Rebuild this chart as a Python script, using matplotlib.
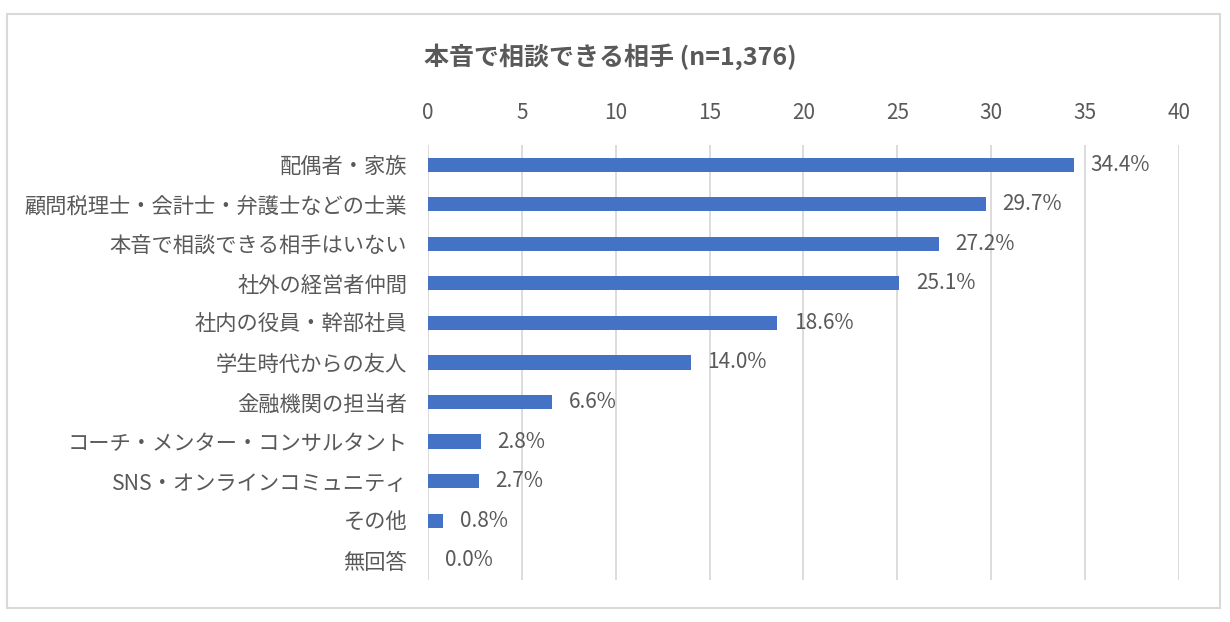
#!/usr/bin/env python3
"""
Horizontal bar chart: who company owners can talk to honestly (n=1,376).
"""
import matplotlib
matplotlib.use('Agg')
import matplotlib.pyplot as plt
from matplotlib.patches import Rectangle

TITLE = '本音で相談できる相手 (n=1,376)'
categories = [
    '配偶者・家族',
    '顧問税理士・会計士・弁護士などの士業',
    '本音で相談できる相手はいない',
    '社外の経営者仲間',
    '社内の役員・幹部社員',
    '学生時代からの友人',
    '金融機関の担当者',
    'コーチ・メンター・コンサルタント',
    'SNS・オンラインコミュニティ',
    'その他',
    '無回答',
]
values = [34.4, 29.7, 27.2, 25.1, 18.6, 14.0, 6.6, 2.8, 2.7, 0.8, 0.0]
x_ticks = [0, 5, 10, 15, 20, 25, 30, 35, 40]

BAR_COLOR = '#4472C4'
TEXT_COLOR = '#595959'
GRID_COLOR = '#D9D9D9'


def main():
    plt.rcParams['font.family'] = ['Noto Sans CJK JP', 'DejaVu Sans']
    fig = plt.figure(figsize=(12.3, 6.22), dpi=100)
    ax = fig.add_axes([0.348, 0.0675, 0.6105, 0.6995])

    ypos = list(range(len(categories)))
    ax.barh(ypos, values, height=0.36, color=BAR_COLOR, zorder=3)
    for y, v in zip(ypos, values):
        ax.annotate(f'{v:.1f}%', xy=(v, y), xytext=(12, 0), textcoords='offset points',
                    ha='left', va='center', fontsize=15, color=TEXT_COLOR)

    ax.set_xlim(0, 40)
    ax.set_ylim(len(categories) - 0.5, -0.5)
    ax.set_xticks(x_ticks)
    ax.set_yticks(ypos)
    ax.set_yticklabels(categories)
    ax.xaxis.tick_top()
    ax.tick_params(axis='x', length=0, pad=15, labelsize=15, labelcolor=TEXT_COLOR)
    ax.tick_params(axis='y', length=0, pad=15, labelsize=15.3, labelcolor=TEXT_COLOR)
    ax.grid(axis='x', color=GRID_COLOR, linewidth=1.3, zorder=0)
    for s in ax.spines.values():
        s.set_visible(False)

    fig.text(0.496, 1 - 57 / 622, TITLE, ha='center', va='center',
             fontsize=18, fontweight='bold', color=TEXT_COLOR)

    # outer chart border
    fig.patches.append(Rectangle((7 / 1230, 1 - 608 / 622), 1213 / 1230, 594 / 622,
                                 transform=fig.transFigure, fill=False,
                                 edgecolor=GRID_COLOR, linewidth=1.5))

    fig.savefig('out.png', dpi=100)


if __name__ == '__main__':
    main()
